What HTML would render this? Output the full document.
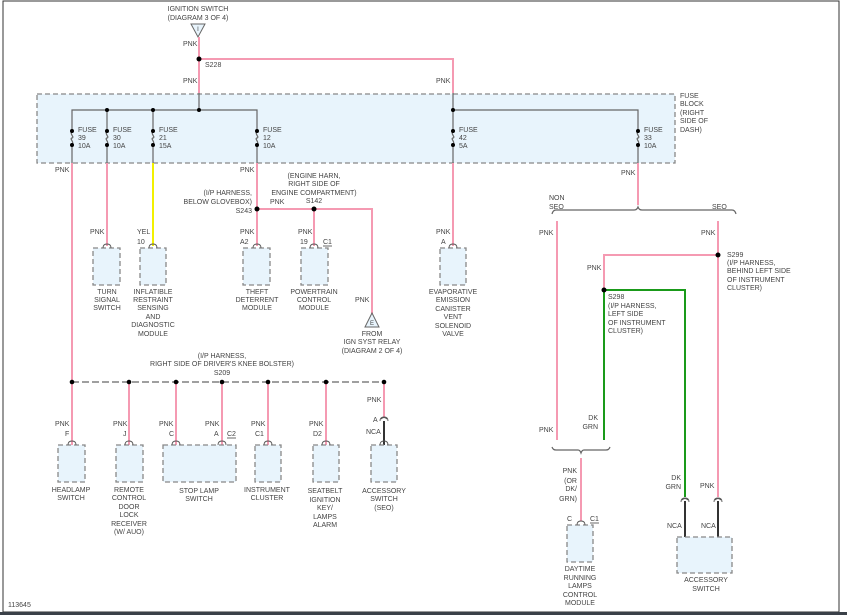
<!DOCTYPE html>
<html><head><meta charset="utf-8"><style>
html,body{margin:0;padding:0;background:#fff}
svg{display:block}
text{font-family:"Liberation Sans",sans-serif;font-size:7px;fill:#444}
.p{stroke:#f59ab2;stroke-width:2;fill:none}
.g{stroke:#1a9a1a;stroke-width:2;fill:none}
.y{stroke:#f2f000;stroke-width:2;fill:none}
.k{stroke:#333;stroke-width:2;fill:none}
.gr{stroke:#666;stroke-width:1.2;fill:none}
.bx{fill:#e8f4fc;stroke:#888;stroke-width:1.3;stroke-dasharray:5,3}
.c{stroke:#555;stroke-width:0.9;fill:none}
.m{text-anchor:middle}
.e{text-anchor:end}
</style></head><body>
<svg width="847" height="615" viewBox="0 0 847 615">
<rect x="3" y="1" width="836" height="611" fill="none" stroke="#333" stroke-width="1"/>
<rect x="0" y="612" width="847" height="3" fill="#3a4048"/>
<text x="8" y="607">113645</text>

<!-- top ignition -->
<text x="198" y="11" class="m">IGNITION SWITCH</text>
<text x="198" y="20" class="m">(DIAGRAM 3 OF 4)</text>
<path d="M191 24 L205 24 L198 37 Z" fill="#e8f4fc" stroke="#666" stroke-width="1"/>
<text x="198" y="31" class="m" style="font-size:6px">I</text>
<line x1="199" y1="37" x2="199" y2="93" class="p"/>
<path d="M199 59 H453 V93" class="p"/>
<circle cx="199" cy="59" r="2.5" fill="#000"/>
<text x="205" y="67">S228</text>
<text x="183" y="46">PNK</text>
<text x="183" y="83">PNK</text>
<text x="436" y="83">PNK</text>

<!-- fuse block -->
<rect x="37" y="94" width="638" height="69" class="bx"/>
<text x="680" y="98">FUSE</text>
<text x="680" y="106">BLOCK</text>
<text x="680" y="115">(RIGHT</text>
<text x="680" y="123">SIDE OF</text>
<text x="680" y="132">DASH)</text>
<line x1="199" y1="93" x2="199" y2="110" class="gr"/>
<line x1="453" y1="93" x2="453" y2="110" class="gr"/>
<path d="M72 163 V110 H257 V163" class="gr"/>
<path d="M453 110 H638 V163" class="gr"/>
<line x1="107" y1="110" x2="107" y2="163" class="gr"/>
<line x1="153" y1="110" x2="153" y2="163" class="gr"/>
<line x1="453" y1="110" x2="453" y2="163" class="gr"/>
<g fill="#000">
<circle cx="107" cy="110" r="2"/><circle cx="153" cy="110" r="2"/><circle cx="199" cy="110" r="2"/><circle cx="453" cy="110" r="2"/>
</g>
<!-- fuses -->
<g>
<g transform="translate(72,0)"><rect x="-2" y="133" width="4" height="10" fill="#e8f4fc"/><path d="M0 131 C-3 134 3 137 0 138 C-3 139 3 142 0 145" class="gr"/><circle cx="0" cy="131" r="2"/><circle cx="0" cy="145" r="2"/><text x="6" y="132">FUSE</text><text x="6" y="140">39</text><text x="6" y="148">10A</text></g>
<g transform="translate(107,0)"><rect x="-2" y="133" width="4" height="10" fill="#e8f4fc"/><path d="M0 131 C-3 134 3 137 0 138 C-3 139 3 142 0 145" class="gr"/><circle cx="0" cy="131" r="2"/><circle cx="0" cy="145" r="2"/><text x="6" y="132">FUSE</text><text x="6" y="140">30</text><text x="6" y="148">10A</text></g>
<g transform="translate(153,0)"><rect x="-2" y="133" width="4" height="10" fill="#e8f4fc"/><path d="M0 131 C-3 134 3 137 0 138 C-3 139 3 142 0 145" class="gr"/><circle cx="0" cy="131" r="2"/><circle cx="0" cy="145" r="2"/><text x="6" y="132">FUSE</text><text x="6" y="140">21</text><text x="6" y="148">15A</text></g>
<g transform="translate(257,0)"><rect x="-2" y="133" width="4" height="10" fill="#e8f4fc"/><path d="M0 131 C-3 134 3 137 0 138 C-3 139 3 142 0 145" class="gr"/><circle cx="0" cy="131" r="2"/><circle cx="0" cy="145" r="2"/><text x="6" y="132">FUSE</text><text x="6" y="140">12</text><text x="6" y="148">10A</text></g>
<g transform="translate(453,0)"><rect x="-2" y="133" width="4" height="10" fill="#e8f4fc"/><path d="M0 131 C-3 134 3 137 0 138 C-3 139 3 142 0 145" class="gr"/><circle cx="0" cy="131" r="2"/><circle cx="0" cy="145" r="2"/><text x="6" y="132">FUSE</text><text x="6" y="140">42</text><text x="6" y="148">5A</text></g>
<g transform="translate(638,0)"><rect x="-2" y="133" width="4" height="10" fill="#e8f4fc"/><path d="M0 131 C-3 134 3 137 0 138 C-3 139 3 142 0 145" class="gr"/><circle cx="0" cy="131" r="2"/><circle cx="0" cy="145" r="2"/><text x="6" y="132">FUSE</text><text x="6" y="140">33</text><text x="6" y="148">10A</text></g>
</g>

<!-- upper row wires -->
<line x1="72" y1="163" x2="72" y2="382" class="p"/>
<text x="55" y="172">PNK</text>
<line x1="107" y1="163" x2="107" y2="246" class="p"/>
<line x1="153" y1="163" x2="153" y2="246" class="y"/>
<line x1="257" y1="163" x2="257" y2="246" class="p"/>
<text x="240" y="172">PNK</text>
<path d="M257 209 H372 V314" class="p"/>
<line x1="314" y1="209" x2="314" y2="246" class="p"/>
<circle cx="257" cy="209" r="2.5" fill="#000"/>
<circle cx="314" cy="209" r="2.5" fill="#000"/>
<text x="252" y="195" class="e">(I/P HARNESS,</text>
<text x="252" y="204" class="e">BELOW GLOVEBOX)</text>
<text x="252" y="213" class="e">S243</text>
<text x="270" y="204">PNK</text>
<text x="314" y="178" class="m">(ENGINE HARN,</text>
<text x="314" y="186" class="m">RIGHT SIDE OF</text>
<text x="314" y="195" class="m">ENGINE COMPARTMENT)</text>
<text x="314" y="203" class="m">S142</text>
<path d="M365 327 L379 327 L372 313 Z" fill="#e8f4fc" stroke="#666" stroke-width="1"/>
<text x="372" y="325" class="m" style="font-size:6px">E</text>
<text x="355" y="302">PNK</text>
<text x="372" y="336" class="m">FROM</text>
<text x="372" y="344" class="m">IGN SYST RELAY</text>
<text x="372" y="353" class="m">(DIAGRAM 2 OF 4)</text>
<line x1="453" y1="163" x2="453" y2="246" class="p"/>

<!-- upper boxes -->
<rect x="93" y="248" width="27" height="37" class="bx"/>
<path d="M103 248 Q103 244 107 244 Q111 244 111 248" class="c"/>
<text x="90" y="234">PNK</text>
<text x="107" y="294" class="m">TURN</text><text x="107" y="302" class="m">SIGNAL</text><text x="107" y="310" class="m">SWITCH</text>

<rect x="140" y="248" width="26" height="37" class="bx"/>
<path d="M149 248 Q149 244 153 244 Q157 244 157 248" class="c"/>
<text x="137" y="234">YEL</text><text x="137" y="244">10</text>
<text x="153" y="294" class="m">INFLATIBLE</text><text x="153" y="302" class="m">RESTRAINT</text><text x="153" y="310" class="m">SENSING</text><text x="153" y="319" class="m">AND</text><text x="153" y="327" class="m">DIAGNOSTIC</text><text x="153" y="336" class="m">MODULE</text>

<rect x="243" y="248" width="27" height="37" class="bx"/>
<path d="M253 248 Q253 244 257 244 Q261 244 261 248" class="c"/>
<text x="240" y="234">PNK</text><text x="240" y="244">A2</text>
<text x="257" y="294" class="m">THEFT</text><text x="257" y="302" class="m">DETERRENT</text><text x="257" y="310" class="m">MODULE</text>

<rect x="301" y="248" width="27" height="37" class="bx"/>
<path d="M310 248 Q310 244 314 244 Q318 244 318 248" class="c"/>
<text x="298" y="234">PNK</text><text x="300" y="244">19</text><text x="323" y="244">C1</text>
<line x1="323" y1="246" x2="332" y2="246" stroke="#444" stroke-width="0.8"/>
<text x="314" y="294" class="m">POWERTRAIN</text><text x="314" y="302" class="m">CONTROL</text><text x="314" y="310" class="m">MODULE</text>

<rect x="440" y="248" width="26" height="37" class="bx"/>
<path d="M449 248 Q449 244 453 244 Q457 244 457 248" class="c"/>
<text x="436" y="234">PNK</text><text x="441" y="244">A</text>
<text x="453" y="294" class="m">EVAPORATIVE</text><text x="453" y="302" class="m">EMISSION</text><text x="453" y="311" class="m">CANISTER</text><text x="453" y="319" class="m">VENT</text><text x="453" y="328" class="m">SOLENOID</text><text x="453" y="336" class="m">VALVE</text>

<!-- S209 bus -->
<text x="222" y="358" class="m">(I/P HARNESS,</text>
<text x="222" y="366" class="m">RIGHT SIDE OF DRIVER'S KNEE BOLSTER)</text>
<text x="222" y="375" class="m">S209</text>
<line x1="72" y1="382" x2="384" y2="382" stroke="#666" stroke-width="1.2" stroke-dasharray="7,3"/>
<g class="p">
<line x1="72" y1="382" x2="72" y2="445"/>
<line x1="129" y1="382" x2="129" y2="445"/>
<line x1="176" y1="382" x2="176" y2="445"/>
<line x1="222" y1="382" x2="222" y2="445"/>
<line x1="268" y1="382" x2="268" y2="445"/>
<line x1="326" y1="382" x2="326" y2="445"/>
<line x1="384" y1="382" x2="384" y2="418"/>
</g>
<line x1="384" y1="421" x2="384" y2="445" class="k"/>
<g fill="#000">
<circle cx="72" cy="382" r="2.3"/><circle cx="129" cy="382" r="2.3"/><circle cx="176" cy="382" r="2.3"/><circle cx="222" cy="382" r="2.3"/><circle cx="268" cy="382" r="2.3"/><circle cx="326" cy="382" r="2.3"/><circle cx="384" cy="382" r="2.3"/>
</g>

<rect x="58" y="445" width="27" height="37" class="bx"/>
<path d="M68 445 Q68 441 72 441 Q76 441 76 445" class="c"/>
<text x="55" y="426">PNK</text><text x="65" y="436">F</text>
<text x="71" y="492" class="m">HEADLAMP</text><text x="71" y="500" class="m">SWITCH</text>

<rect x="116" y="445" width="27" height="37" class="bx"/>
<path d="M125 445 Q125 441 129 441 Q133 441 133 445" class="c"/>
<text x="113" y="426">PNK</text><text x="123" y="436">J</text>
<text x="129" y="492" class="m">REMOTE</text><text x="129" y="500" class="m">CONTROL</text><text x="129" y="509" class="m">DOOR</text><text x="129" y="517" class="m">LOCK</text><text x="129" y="526" class="m">RECEIVER</text><text x="129" y="534" class="m">(W/ AUO)</text>

<rect x="163" y="445" width="73" height="37" class="bx"/>
<path d="M172 445 Q172 441 176 441 Q180 441 180 445" class="c"/>
<path d="M218 445 Q218 441 222 441 Q226 441 226 445" class="c"/>
<text x="159" y="426">PNK</text><text x="169" y="436">C</text>
<text x="205" y="426">PNK</text><text x="214" y="436">A</text><text x="227" y="436">C2</text>
<line x1="227" y1="438" x2="236" y2="438" stroke="#444" stroke-width="0.8"/>
<text x="199" y="493" class="m">STOP LAMP</text><text x="199" y="501" class="m">SWITCH</text>

<rect x="255" y="445" width="26" height="37" class="bx"/>
<path d="M264 445 Q264 441 268 441 Q272 441 272 445" class="c"/>
<text x="251" y="426">PNK</text><text x="255" y="436">C1</text>
<text x="267" y="492" class="m">INSTRUMENT</text><text x="267" y="500" class="m">CLUSTER</text>

<rect x="313" y="445" width="26" height="37" class="bx"/>
<path d="M322 445 Q322 441 326 441 Q330 441 330 445" class="c"/>
<text x="309" y="426">PNK</text><text x="313" y="436">D2</text>
<text x="325" y="493" class="m">SEATBELT</text><text x="325" y="502" class="m">IGNITION</text><text x="325" y="510" class="m">KEY/</text><text x="325" y="519" class="m">LAMPS</text><text x="325" y="527" class="m">ALARM</text>

<rect x="371" y="445" width="26" height="37" class="bx"/>
<path d="M380 445 Q380 441 384 441 Q388 441 388 445" class="c"/>
<path d="M380 421 Q380 417 384 417 Q388 417 388 421 M381 419 Q384 416 387 419" class="c"/>
<text x="367" y="402">PNK</text><text x="373" y="422">A</text><text x="366" y="434">NCA</text>
<text x="384" y="493" class="m">ACCESSORY</text><text x="384" y="501" class="m">SWITCH</text><text x="384" y="510" class="m">(SEO)</text>

<!-- right side -->
<line x1="638" y1="163" x2="638" y2="205" class="p"/>
<text x="621" y="175">PNK</text>
<path d="M552 214 Q553 210 556 210 H634 Q637 210 638 207 Q639 210 642 210 H732 Q735 210 736 214" class="gr"/>
<text x="549" y="200">NON</text><text x="549" y="209">SEO</text>
<text x="712" y="209">SEO</text>
<line x1="557" y1="221" x2="557" y2="440" class="p"/>
<text x="539" y="235">PNK</text>
<text x="539" y="432">PNK</text>
<line x1="718" y1="221" x2="718" y2="497" class="p"/>
<text x="701" y="235">PNK</text>
<path d="M718 255 H604 V290" class="p"/>
<circle cx="718" cy="255" r="2.5" fill="#000"/>
<text x="587" y="270">PNK</text>
<text x="727" y="257">S299</text><text x="727" y="265">(I/P HARNESS,</text><text x="727" y="273">BEHIND LEFT SIDE</text><text x="727" y="282">OF INSTRUMENT</text><text x="727" y="290">CLUSTER)</text>
<path d="M604 290 V440" class="g"/>
<path d="M604 290 H685 V497" class="g"/>
<circle cx="604" cy="290" r="2.5" fill="#000"/>
<text x="608" y="299">S298</text><text x="608" y="308">(I/P HARNESS,</text><text x="608" y="316">LEFT SIDE</text><text x="608" y="325">OF INSTRUMENT</text><text x="608" y="333">CLUSTER)</text>
<text x="598" y="420" class="e">DK</text><text x="598" y="429" class="e">GRN</text>
<path d="M552 447 Q553 450 556 450 H578 Q580 450 581 453 Q582 450 584 450 H606 Q609 450 610 447" class="gr"/>
<line x1="581" y1="458" x2="581" y2="521" class="p"/>
<text x="577" y="473" class="e">PNK</text><text x="577" y="483" class="e">(OR</text><text x="577" y="491" class="e">DK/</text><text x="577" y="501" class="e">GRN)</text>
<rect x="567" y="525" width="26" height="37" class="bx"/>
<path d="M577 525 Q577 521 581 521 Q585 521 585 525" class="c"/>
<text x="567" y="521">C</text><text x="590" y="521">C1</text>
<line x1="590" y1="523" x2="599" y2="523" stroke="#444" stroke-width="0.8"/>
<text x="580" y="571" class="m">DAYTIME</text><text x="580" y="580" class="m">RUNNING</text><text x="580" y="588" class="m">LAMPS</text><text x="580" y="597" class="m">CONTROL</text><text x="580" y="605" class="m">MODULE</text>

<line x1="685" y1="501" x2="685" y2="537" class="k"/>
<line x1="718" y1="501" x2="718" y2="537" class="k"/>
<path d="M681 502 Q681 498 685 498 Q689 498 689 502 M682 500 Q685 497 688 500" class="c"/>
<path d="M714 502 Q714 498 718 498 Q722 498 722 502 M715 500 Q718 497 721 500" class="c"/>
<text x="681" y="480" class="e">DK</text><text x="681" y="489" class="e">GRN</text>
<text x="700" y="488">PNK</text>
<text x="667" y="528">NCA</text><text x="701" y="528">NCA</text>
<rect x="677" y="537" width="55" height="36" class="bx"/>
<text x="706" y="582" class="m">ACCESSORY</text><text x="706" y="591" class="m">SWITCH</text>
</svg>
</body></html>
